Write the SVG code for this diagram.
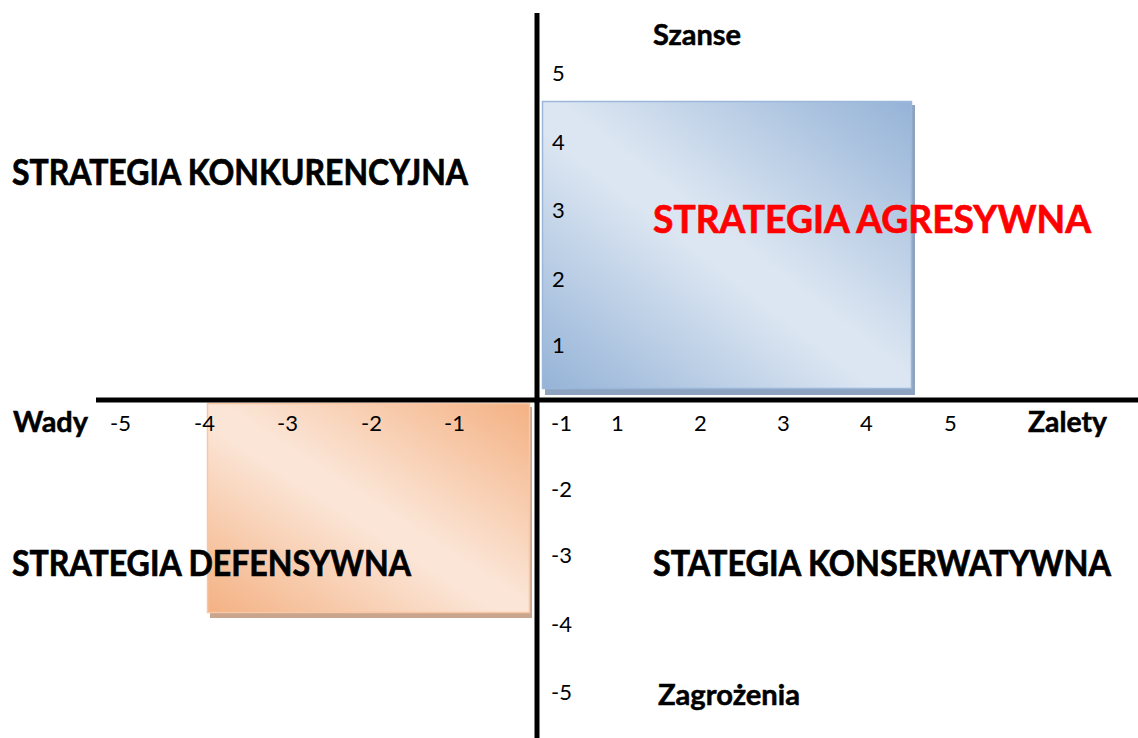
<svg xmlns="http://www.w3.org/2000/svg" width="1138" height="738" viewBox="0 0 1138 738">
  <style>
    .num { font-family: Lato, "Liberation Sans", sans-serif; font-size: 22px; fill: #000; }
    .lbl { font-family: Lato, "Liberation Sans", sans-serif; font-size: 28px; font-weight: bold; fill: #000; stroke: #000; stroke-width: 0.5; }
    .strat { font-family: Lato, "Liberation Sans", sans-serif; font-size: 36px; font-weight: bold; fill: #000; stroke: #000; stroke-width: 0.7; }
    .red { font-size: 39px; fill: #ff0000; stroke: #ff0000; }
    .axis { stroke: #000; stroke-width: 5; fill: none; }
  </style>
  <defs>
    <linearGradient id="gBlue" x1="1" y1="0" x2="0" y2="1">
      <stop offset="0" stop-color="#95b3d7"/>
      <stop offset="0.48" stop-color="#dce6f2"/>
      <stop offset="0.55" stop-color="#dce6f2"/>
      <stop offset="1" stop-color="#95b3d7"/>
    </linearGradient>
    <linearGradient id="gOrange" x1="1" y1="0" x2="0" y2="1">
      <stop offset="0" stop-color="#f4b183"/>
      <stop offset="0.48" stop-color="#fbe5d6"/>
      <stop offset="0.55" stop-color="#fbe5d6"/>
      <stop offset="1" stop-color="#f4b183"/>
    </linearGradient>
  </defs>
  <rect width="1138" height="738" fill="#fff"/>

  <g id="agresywna-box">
    <rect x="545" y="105" width="370" height="290" fill="#8ea3bf"/>
    <rect x="542.5" y="101.5" width="369" height="287" fill="url(#gBlue)" stroke="#9bb7da" stroke-width="1.5"/>
  </g>
  <g id="defensywna-box">
    <rect x="210" y="407" width="322" height="211" fill="#c9a58d"/>
    <rect x="207.5" y="403.5" width="322" height="209" fill="url(#gOrange)" stroke="#f8c7a6" stroke-width="1.5"/>
  </g>

  <g id="connectors">
    <line class="axis" x1="537" y1="13" x2="537" y2="738"/>
    <line class="axis" x1="96" y1="400" x2="1138" y2="400"/>
  </g>

  <g id="y-ticks">
    <text class="num" x="552" y="81">5</text>
    <text class="num" x="552" y="150">4</text>
    <text class="num" x="552" y="218">3</text>
    <text class="num" x="552" y="287">2</text>
    <text class="num" x="552" y="353">1</text>
    <text class="num" x="551" y="497">-2</text>
    <text class="num" x="551" y="563">-3</text>
    <text class="num" x="551" y="632">-4</text>
    <text class="num" x="551" y="700">-5</text>
  </g>
  <g id="x-ticks">
    <text class="num" x="110" y="431">-5</text>
    <text class="num" x="194" y="431">-4</text>
    <text class="num" x="277" y="431">-3</text>
    <text class="num" x="361" y="431">-2</text>
    <text class="num" x="444" y="431">-1</text>
    <text class="num" x="551" y="431">-1</text>
    <text class="num" x="611" y="431">1</text>
    <text class="num" x="694" y="431">2</text>
    <text class="num" x="777" y="431">3</text>
    <text class="num" x="860" y="431">4</text>
    <text class="num" x="944" y="431">5</text>
  </g>

  <g id="axis-labels">
    <text class="lbl" x="653" y="45" textLength="88" lengthAdjust="spacingAndGlyphs">Szanse</text>
    <text class="lbl" x="13" y="432" textLength="75" lengthAdjust="spacingAndGlyphs">Wady</text>
    <text class="lbl" x="1028" y="432" textLength="79" lengthAdjust="spacingAndGlyphs">Zalety</text>
    <text class="lbl" x="658" y="705" textLength="142" lengthAdjust="spacingAndGlyphs">Zagrożenia</text>
  </g>

  <g id="quadrant-labels">
    <text class="strat" x="12" y="185" textLength="456" lengthAdjust="spacingAndGlyphs">STRATEGIA KONKURENCYJNA</text>
    <text class="strat red" x="653" y="233" textLength="438" lengthAdjust="spacingAndGlyphs">STRATEGIA AGRESYWNA</text>
    <text class="strat" x="12" y="576" textLength="399" lengthAdjust="spacingAndGlyphs">STRATEGIA DEFENSYWNA</text>
    <text class="strat" x="1111" y="576" text-anchor="end" textLength="458" lengthAdjust="spacingAndGlyphs">STATEGIA KONSERWATYWNA</text>
  </g>
</svg>
